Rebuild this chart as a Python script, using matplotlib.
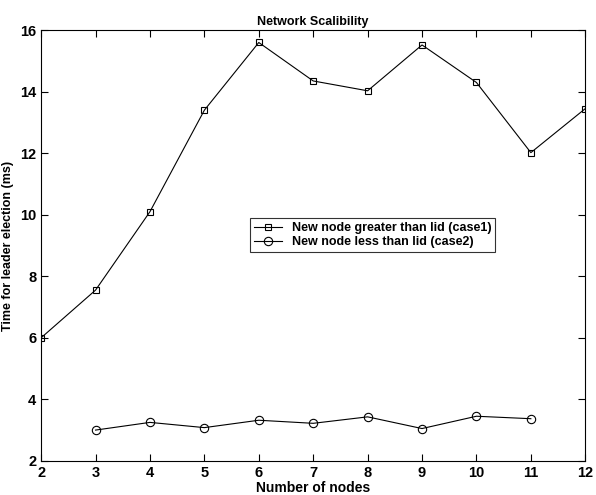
import matplotlib
matplotlib.use("Agg")
import matplotlib.pyplot as plt

nodes1 = [2, 3, 4, 5, 6, 7, 8, 9, 10, 11, 12]
case1 = [6.0, 7.55, 10.1, 13.4, 15.6, 14.35, 14.03, 15.52, 14.3, 12.02, 13.45]
nodes2 = [3, 4, 5, 6, 7, 8, 9, 10, 11]
case2 = [3.0, 3.25, 3.08, 3.32, 3.22, 3.43, 3.05, 3.45, 3.37]

plt.rcParams['font.family'] = ['Liberation Sans', 'DejaVu Sans']
plt.rcParams['font.weight'] = 'bold'

fig = plt.figure(figsize=(5.96, 4.95), dpi=100)
ax = fig.add_axes([0.069, 0.069, 0.913, 0.87])

ax.plot(nodes1, case1, color='black', lw=0.8, marker='s', ms=5,
        mfc='none', mec='black', mew=0.8, label='New node greater than lid (case1)')
ax.plot(nodes2, case2, color='black', lw=0.8, marker='o', ms=6,
        mfc='none', mec='black', mew=0.8, label='New node less than lid (case2)')

ax.set_xlim(2, 12)
ax.set_ylim(2, 16)
ax.set_xticks(range(2, 13))
ax.set_yticks(range(2, 17, 2))
ax.tick_params(direction='in', top=True, right=True, labelsize=10.5, length=5)
for lab in ax.get_xticklabels() + ax.get_yticklabels():
    lab.set_fontweight('bold')

ax.set_title('Network Scalibility', fontsize=9, fontweight='bold', pad=4)
ax.set_xlabel('Number of nodes', fontsize=10, fontweight='bold', labelpad=1)
ax.set_ylabel('Time for leader election (ms)', fontsize=9, fontweight='bold', labelpad=4)

leg = ax.legend(loc='lower left', bbox_to_anchor=(0.373, 0.47), fontsize=9,
                frameon=True, fancybox=False, edgecolor='black',
                borderpad=0.3, handlelength=2.2, labelspacing=0.2)
leg.get_frame().set_linewidth(0.8)

fig.savefig('out.png', dpi=100)
